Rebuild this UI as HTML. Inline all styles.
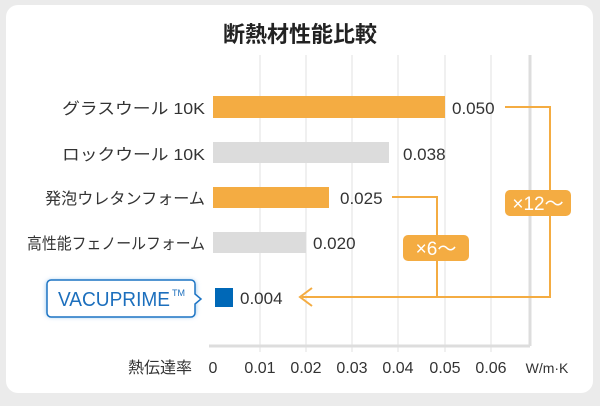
<!DOCTYPE html><html><head><meta charset="utf-8"><style>
body{margin:0;width:600px;height:401px;background:#ebebeb;overflow:hidden;font-family:"Liberation Sans","Noto Sans CJK JP",sans-serif}
</style></head><body>
<svg width="600" height="401" xmlns="http://www.w3.org/2000/svg" font-family="Liberation Sans, Noto Sans CJK JP, sans-serif">
<defs><filter id="g" x="-20%" y="-40%" width="140%" height="180%"><feGaussianBlur stdDeviation="2.5"/></filter></defs>
<rect x="6" y="5" width="587" height="388" rx="12" fill="#fff"/>
<text x="300" y="42" text-anchor="middle" font-size="22" font-weight="bold" fill="#222">断熱材性能比較</text>
<g stroke="#e2e2e2" stroke-width="1">
<line x1="260" y1="55" x2="260" y2="352"/><line x1="306" y1="55" x2="306" y2="352"/><line x1="352" y1="55" x2="352" y2="352"/><line x1="398" y1="55" x2="398" y2="352"/><line x1="445" y1="55" x2="445" y2="352"/><line x1="491" y1="55" x2="491" y2="352"/>
</g>
<line x1="530" y1="55" x2="530" y2="346" stroke="#ddd" stroke-width="3"/>
<line x1="209" y1="346" x2="530" y2="346" stroke="#ddd" stroke-width="3"/>
<rect x="213" y="96" width="232" height="22" fill="#f4ac42"/>
<rect x="213" y="142" width="176" height="21" fill="#dcdcdc"/>
<rect x="213" y="187" width="116" height="21" fill="#f4ac42"/>
<rect x="213" y="232" width="93" height="21" fill="#dcdcdc"/>
<rect x="215" y="288" width="18" height="19" fill="#0068b7"/>
<g font-size="17" fill="#333">
<text x="452" y="114">0.050</text><text x="403" y="160">0.038</text><text x="340" y="204">0.025</text><text x="313" y="249">0.020</text><text x="240" y="304">0.004</text>
</g>
<g font-size="16" fill="#333">
<text x="62" y="114" textLength="143" lengthAdjust="spacingAndGlyphs">グラスウール 10K</text>
<text x="62" y="160" textLength="143" lengthAdjust="spacingAndGlyphs">ロックウール 10K</text>
<text x="45" y="204" textLength="160" lengthAdjust="spacingAndGlyphs">発泡ウレタンフォーム</text>
<text x="27" y="249" textLength="178" lengthAdjust="spacingAndGlyphs">高性能フェノールフォーム</text>
</g>
<g fill="none" stroke="#f4ac42" stroke-width="2">
<polyline points="505,107 550,107 550,297 302,297"/>
<polyline points="392,197 437,197 437,297"/>
<polyline points="312,288 300,297 312,306"/>
</g>
<rect x="505" y="190" width="66" height="26" rx="5" fill="#f4ac42"/>
<text x="538" y="210" text-anchor="middle" font-size="19" fill="#fff">×12～</text>
<rect x="403" y="235" width="66" height="26" rx="5" fill="#f4ac42"/>
<text x="436" y="255" text-anchor="middle" font-size="19" fill="#fff">×6～</text>
<rect x="46" y="280" width="150" height="37" rx="5" fill="#9cc8ee" filter="url(#g)"/>
<path d="M51,280 h140 a4,4 0 0 1 4,4 v10 l6,5 l-6,5 v9 a4,4 0 0 1 -4,4 h-140 a4,4 0 0 1 -4,-4 v-29 a4,4 0 0 1 4,-4z" fill="#fff" stroke="#1c74c4" stroke-width="1.5"/>
<text x="58" y="306" font-size="20" fill="#1c6fbd" textLength="112" lengthAdjust="spacingAndGlyphs">VACUPRIME</text><text x="172" y="296" font-size="9" fill="#1c6fbd">TM</text>
<g font-size="16" fill="#333" text-anchor="middle">
<text x="160" y="373">熱伝達率</text>
<text x="213" y="373">0</text><text x="260" y="373">0.01</text><text x="306" y="373">0.02</text><text x="352" y="373">0.03</text><text x="398" y="373">0.04</text><text x="445" y="373">0.05</text><text x="491" y="373">0.06</text><text x="547" y="373" font-size="14">W/m·K</text>
</g>
</svg>
</body></html>
